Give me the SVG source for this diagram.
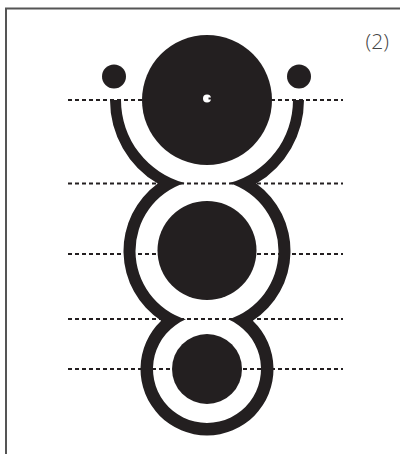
<svg xmlns="http://www.w3.org/2000/svg" width="400" height="454" viewBox="0 0 400 454">
  <style>
    .ink { fill: #231f20; }
    .guide { stroke: #231f20; stroke-width: 2; stroke-dasharray: 4 3; fill: none; }
    .frame { stroke: #555; stroke-width: 2; fill: none; }
    .label { font-family: "Open Sans", "Liberation Sans", Arial, sans-serif; font-size: 21px; font-weight: 300; fill: #444; }
  </style>
  <rect width="400" height="454" fill="#fff"/>
  <g id="frame">
    <line class="frame" x1="5" y1="8.5" x2="400" y2="8.5"/>
    <line class="frame" x1="6" y1="8" x2="6" y2="454"/>
  </g>
  <text class="label" x="389" y="49" text-anchor="end">(2)</text>
  <g id="guides">
    <line class="guide" x1="68" y1="100" x2="343" y2="100"/>
    <line class="guide" x1="68" y1="183.5" x2="343" y2="183.5"/>
    <line class="guide" x1="68" y1="254" x2="343" y2="254"/>
    <line class="guide" x1="68" y1="319" x2="343" y2="319"/>
    <line class="guide" x1="68" y1="369" x2="343" y2="369"/>
  </g>
  <g id="outline">
    <path class="ink" d="M 110,100 A 97 97 0 0 0 157.75,183.57 A 83.5 83.5 0 0 0 161.19,320.81 A 66.5 66.5 0 1 0 252.81,320.81 A 83.5 83.5 0 0 0 256.25,183.57 A 97 97 0 0 0 304,100 L 293,100 A 86 86 0 0 1 229.29,183.06 A 71.5 71.5 0 0 1 228.12,319.31 A 54 54 0 1 1 185.88,319.31 A 71.5 71.5 0 0 1 184.71,183.06 A 86 86 0 0 1 121,100 Z"/>
  </g>
  <g id="top-disc">
    <circle class="ink" cx="207" cy="100" r="65"/>
    <circle cx="207" cy="98.5" r="4" fill="#fff"/>
    <rect class="ink" x="208.5" y="97.5" width="3" height="2"/>
  </g>
  <g id="dot-left"><circle class="ink" cx="114" cy="76.5" r="12"/></g>
  <g id="dot-right"><circle class="ink" cx="299" cy="76.5" r="12"/></g>
  <g id="middle-disc"><circle class="ink" cx="207" cy="250.5" r="49.5"/></g>
  <g id="lower-disc"><circle class="ink" cx="207" cy="369" r="35"/></g>
</svg>
